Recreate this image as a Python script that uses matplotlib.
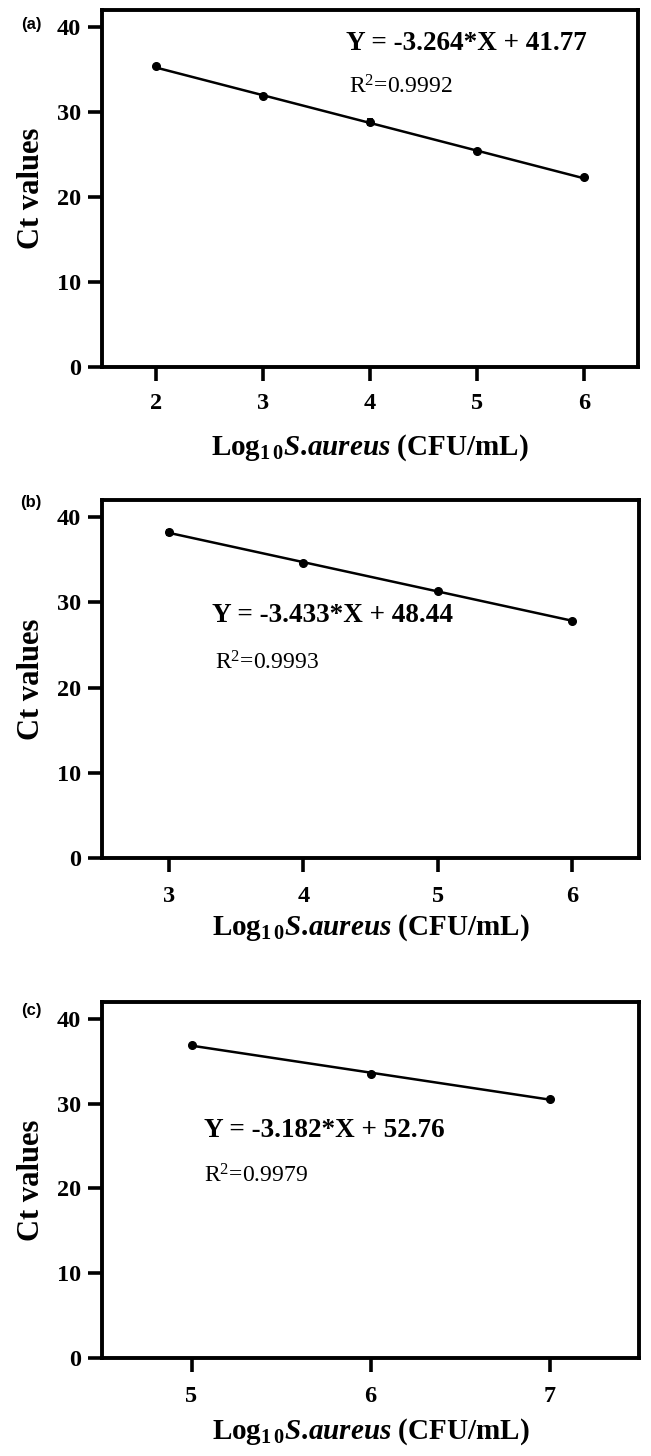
import matplotlib
matplotlib.use("Agg")
import matplotlib.pyplot as plt
import numpy as np

plt.rcParams['font.family'] = ['Liberation Serif', 'DejaVu Serif']
plt.rcParams['mathtext.fontset'] = 'custom'
plt.rcParams['mathtext.rm'] = 'Liberation Serif:bold'
plt.rcParams['mathtext.it'] = 'Liberation Serif:bold:italic'
plt.rcParams['mathtext.bf'] = 'Liberation Serif:bold'

# ---- data ----
panel_labels = ['(a)', '(b)', '(c)']

x_a = [2, 3, 4, 5, 6]
ct_a = [35.4, 31.9, 28.8, 25.4, 22.3]
sd_a = [0.15, 0.25, 0.35, 0.15, 0.15]

x_b = [3, 4, 5, 6]
ct_b = [38.2, 34.6, 31.3, 27.8]
sd_b = [0.3, 0.15, 0.15, 0.15]

x_c = [5, 6, 7]
ct_c = [36.9, 33.5, 30.5]
sd_c = [0.15, 0.2, 0.15]

slopes = [-3.264, -3.433, -3.182]
intercepts = [41.77, 48.44, 52.76]
r2_values = ['0.9992', '0.9993', '0.9979']

xlims = [(1.5, 6.5), (2.5, 6.5), (4.5, 7.5)]
ylim = (0, 42)
yticks = [0, 10, 20, 30, 40]

eq_pos = [(3.78, 38.1), (3.32, 28.4), (5.07, 26.8)]
r2_pos = [(3.8, 32.9), (3.34, 22.9), (5.07, 21.5)]

xs = [x_a, x_b, x_c]
cts = [ct_a, ct_b, ct_c]
sds = [sd_a, sd_b, sd_c]

W, H = 651, 1456
fig = plt.figure(figsize=(W / 100, H / 100), dpi=100)

# axes boxes in pixels: (left, top, right, bottom)
boxes = [(102, 10, 638, 367), (102, 500, 639, 858), (102, 1002, 639, 1358)]
label_pos = [(31, 25), (31, 503), (31, 1010)]
xpads = [(9, 13), (10, 4), (10, 7)]

for i in range(3):
    l, t, r, b = boxes[i]
    ax = fig.add_axes([l / W, 1 - b / H, (r - l) / W, (b - t) / H])
    x = np.array(xs[i], dtype=float)
    y = np.array(cts[i])
    xl = np.array([x.min(), x.max()])
    ax.plot(xl, slopes[i] * xl + intercepts[i], color='black', lw=1.8, zorder=2)
    ax.errorbar(x, y, yerr=sds[i], fmt='o', color='black', ms=5.5,
                capsize=2.5, elinewidth=1.3, capthick=1.3, zorder=3)
    ax.set_xlim(*xlims[i])
    ax.set_ylim(*ylim)
    ax.set_yticks(yticks)
    ax.set_xticks(xs[i])
    for sp in ax.spines.values():
        sp.set_linewidth(2.8)
    ax.tick_params(axis='both', direction='out', length=10, width=2.6,
                   labelsize=17.5, pad=5)
    ax.tick_params(axis='x', pad=xpads[i][0])
    for lab in ax.get_xticklabels() + ax.get_yticklabels():
        lab.set_fontweight('bold')
    ax.set_ylabel('Ct values', fontsize=22, fontweight='bold', labelpad=8)
    ax.set_xlabel(r'Log$\mathregular{_{1\,0}}$$\mathit{S}$.$\mathit{aureus}$ (CFU/mL)',
                  fontsize=21, fontweight='bold', labelpad=xpads[i][1])
    ax.text(eq_pos[i][0], eq_pos[i][1],
            'Y = %.3f*X + %.2f' % (slopes[i], intercepts[i]),
            fontsize=19.5, fontweight='bold', ha='left', va='center')
    ax.text(r2_pos[i][0], r2_pos[i][1],
            r'R$\mathregular{^2}$=' + r2_values[i],
            fontsize=17, fontweight='normal', ha='left', va='center')
    fig.text(label_pos[i][0] / W, 1 - label_pos[i][1] / H, panel_labels[i],
             family='Liberation Sans', fontweight='bold', fontsize=12,
             ha='center', va='center')

fig.savefig('out.png', dpi=100)
